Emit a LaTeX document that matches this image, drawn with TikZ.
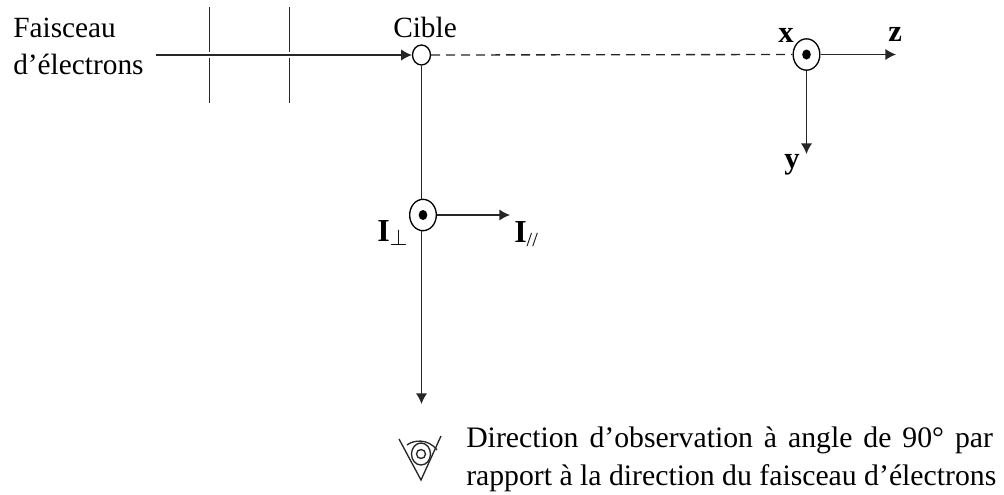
\documentclass[tikz,border=0pt]{standalone}
\usepackage{fontspec}
\setmainfont{Liberation Serif}
\usetikzlibrary{arrows.meta,shapes.geometric}
\tikzset{
 conn/.style={line width=1pt,black!85},
 arr/.style={conn,-{Latex[length=8pt,width=8.5pt]}},
 txt/.style={inner sep=0pt,anchor=base west,font=\fontsize{22}{26}\selectfont},
 longtxt/.style={txt,font=\fontsize{22.3}{26}\selectfont},
 btxt/.style={inner sep=0pt,anchor=base west,font=\fontsize{23}{26}\selectfont\bfseries},
 itxt/.style={inner sep=0pt,anchor=base west,font=\fontsize{24}{26}\selectfont\bfseries},
 ring/.style={ellipse,draw,line width=1pt,inner sep=0pt,fill=white},
 bigring/.style={ring,minimum width=20pt,minimum height=23.5pt},
 dotmark/.style={ellipse,fill=black,inner sep=0pt,minimum width=6.5pt,minimum height=7.5pt}
}
\begin{document}
\begin{tikzpicture}[x=0.75pt,y=-0.75pt]
\useasboundingbox (0,0) rectangle (1004,494);
\node[txt] (t1) at (13,37) {Faisceau};
\node[txt] (t2) at (13,74) {d’électrons};
\node[txt] (t3) at (393,37) {Cible};
\node[ring,minimum width=13.5pt,minimum height=15pt] (cible) at (421.5,55) {};
\coordinate (bs) at (156,55);
\draw[arr] (bs) -- (cible.west);
\draw[conn] (209.5,7) -- (209.5,52);
\draw[conn] (209.5,58) -- (209.5,103);
\draw[conn] (289.5,7) -- (289.5,52);
\draw[conn] (289.5,58) -- (289.5,103);
\node[bigring] (ax) at (806.5,54.5) {};
\node[dotmark] (axd) at (ax.center) {};
\draw[conn,dash pattern=on 6.75pt off 4.5pt] (cible.east) -- (ax.west);
\coordinate (zend) at (896,54.5);
\coordinate (yend) at (806.5,154);
\draw[arr] (ax.east) -- (zend);
\draw[arr] (ax.south) -- (yend);
\node[btxt] (x) at (778,42) {x};
\node[btxt] (z) at (888,41) {z};
\node[btxt] (y) at (784,168) {y};
\node[bigring] (I) at (423,215) {};
\node[dotmark] (Id) at (I.center) {};
\coordinate (obs) at (421.5,404);
\draw[conn] (cible.south) -- (cible.south |- I.north);
\draw[arr] (obs |- I.south) -- (obs);
\coordinate (iend) at (510,215);
\draw[arr] (I.east) -- (iend);
\node[itxt] (Iperp) at (377,241) {I\raisebox{-3pt}{\fontsize{17}{17}\selectfont$\perp$}};
\node[itxt] (Ipar) at (514,242) {I\raisebox{-3pt}{\fontsize{15}{15}\selectfont\mdseries //}};
% eye
\coordinate (eb) at (421,480);
\draw[conn] (399,439) -- (eb) -- (441,436);
\draw[conn] (407,445) .. controls (413,440) and (428,438) .. (437,450);
\draw[conn] (421,454) circle (9.5 and 11);
\draw[conn] (421,454) circle (4.5);
\node[longtxt] (d1) at (466,447) {\makebox[395pt][s]{Direction d’observation à angle de 90° par}};
\node[longtxt] (d2) at (466,485) {rapport à la direction du faisceau d’électrons};
\end{tikzpicture}
\end{document}
